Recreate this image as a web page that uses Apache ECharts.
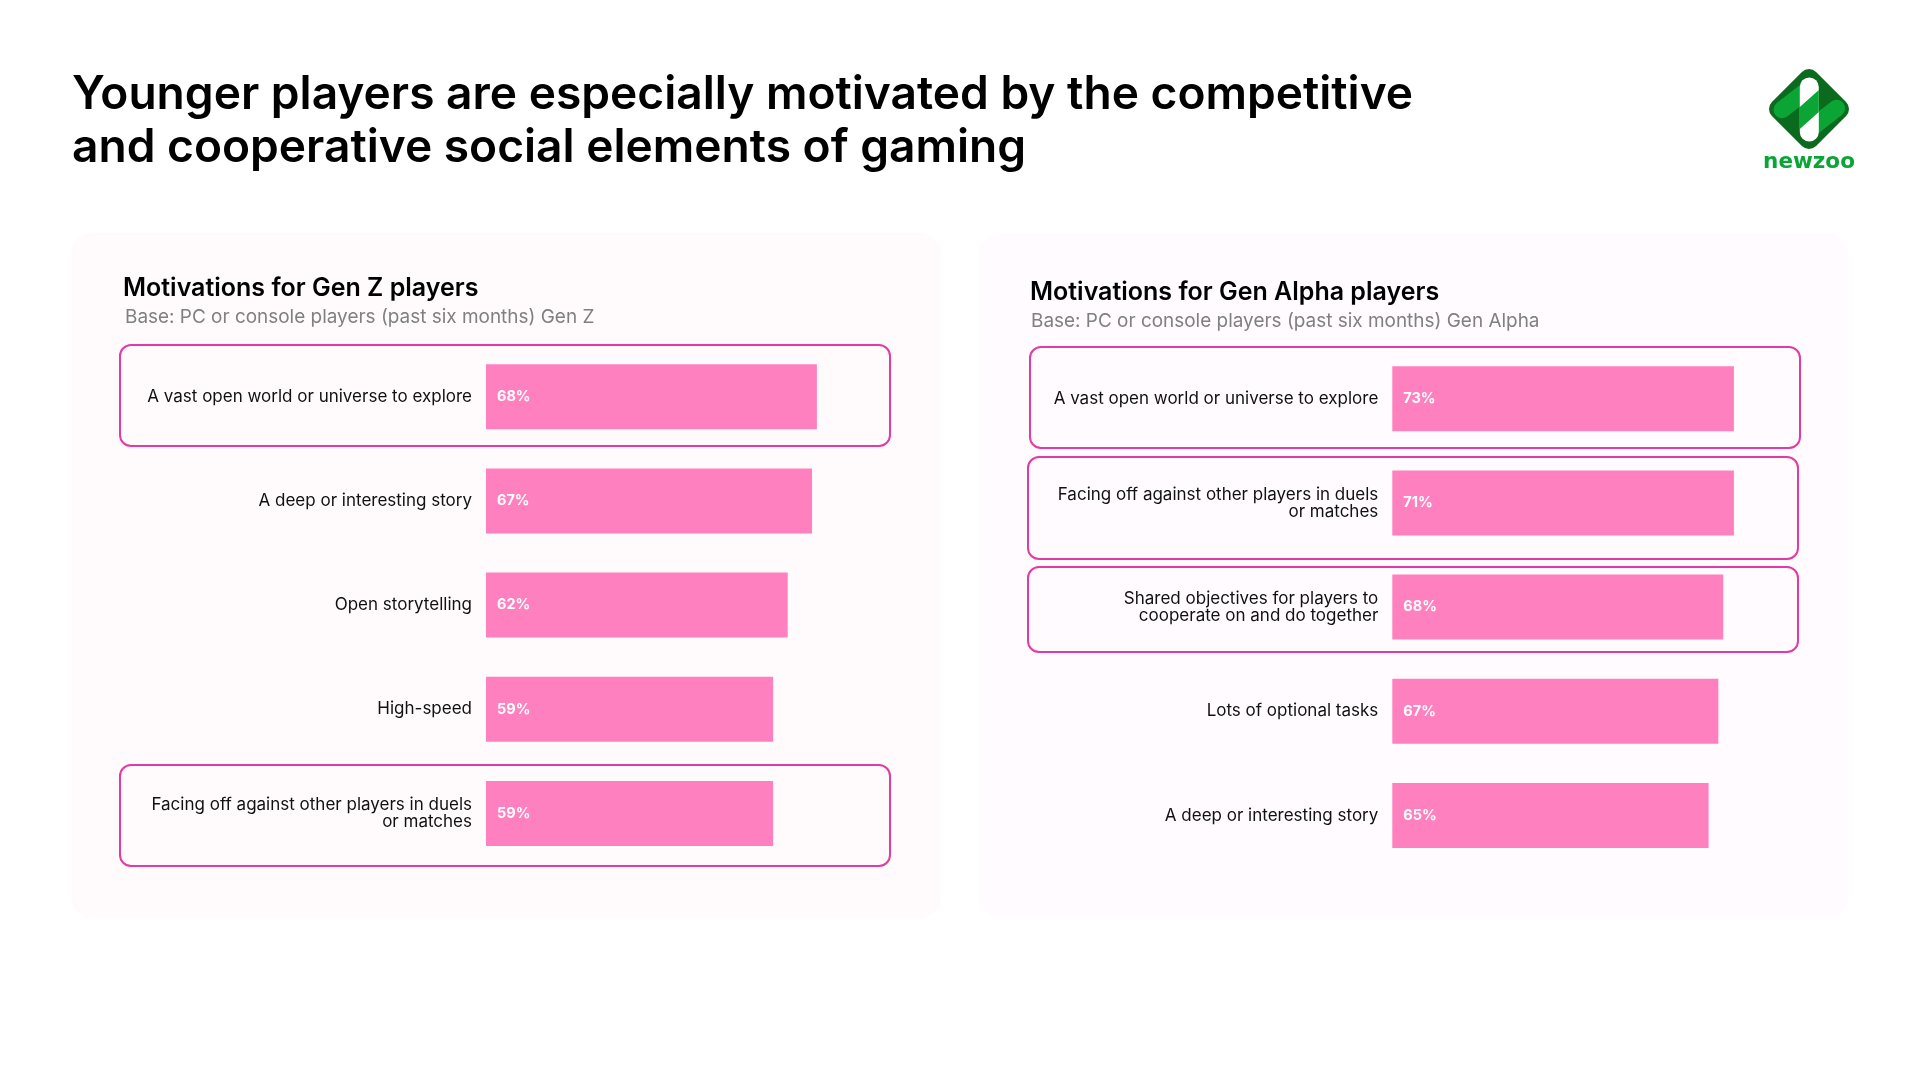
<!DOCTYPE html>
<html>
<head>
    <meta charset="utf-8">
    <title>Motivations for Gen Z and Gen Alpha players</title>
    <script src="https://cdn.jsdelivr.net/npm/echarts@6/dist/echarts.min.js"></script>
    <style>
        html, body { margin: 0; padding: 0; background: #fff; }
    </style>
</head>
<body>
<div id="main" style="width: 1920px;height:1080px;"></div>
<script type="text/javascript">
    var titleLines = [
        'Younger players are especially motivated by the competitive',
        'and cooperative social elements of gaming'
    ];

    var genZCategories = [
        'A vast open world or universe to explore',
        'A deep or interesting story',
        'Open storytelling',
        'High-speed',
        'Facing off against other players in duels\nor matches'
    ];
    var genZValues = [68, 67, 62, 59, 59];

    var genAlphaCategories = [
        'A vast open world or universe to explore',
        'Facing off against other players in duels\nor matches',
        'Shared objectives for players to\ncooperate on and do together',
        'Lots of optional tasks',
        'A deep or interesting story'
    ];
    // printed labels; in the picture the 73% and 71% bars are the same length
    var genAlphaLabels = [73, 71, 68, 67, 65];
    var genAlphaBars = [70.2, 70.2, 68, 67, 65];

    var PINK = '#ff80bf';
    var BOX = '#e23ba6';
    var FONT = 'Inter';

    function panel(x, y, w, h, fill) {
        return {
            type: 'rect', silent: true, z: 0,
            shape: {x: x, y: y, width: w, height: h, r: 22},
            style: {fill: fill}
        };
    }

    function box(x1, y1, x2, y2) {
        return {
            type: 'rect', silent: true, z: 1,
            shape: {x: x1, y: y1, width: x2 - x1, height: y2 - y1, r: 11},
            style: {fill: 'none', stroke: BOX, lineWidth: 2}
        };
    }

    function text(str, x, y, size, weight, color) {
        return {
            type: 'text', silent: true, z: 5,
            x: x, y: y,
            style: {
                text: str, fill: color, fontFamily: FONT,
                fontSize: size, fontWeight: weight,
                textAlign: 'left', textVerticalAlign: 'middle'
            }
        };
    }

    function logo() {
        var dark = '#0a6b1f', mid = '#0aa535';
        return [
            {
                type: 'polygon', silent: true, z: 2,
                shape: {points: [[1809, 79], [1839, 109], [1809, 139], [1779, 109]]},
                style: {fill: dark, stroke: dark, lineWidth: 20, lineJoin: 'round'}
            },
            {
                type: 'line', silent: true, z: 3,
                shape: {x1: 1782, y1: 109.7, x2: 1806, y2: 91},
                style: {stroke: mid, lineWidth: 17, lineCap: 'round'}
            },
            {
                type: 'line', silent: true, z: 3,
                shape: {x1: 1836.6, y1: 108.3, x2: 1812.6, y2: 127},
                style: {stroke: mid, lineWidth: 17, lineCap: 'round'}
            },
            {
                type: 'line', silent: true, z: 4,
                shape: {x1: 1809.3, y1: 87, x2: 1809.3, y2: 132},
                style: {stroke: '#ffffff', lineWidth: 19, lineCap: 'round'}
            },
            {
                type: 'polygon', silent: true, z: 4,
                shape: {points: [[1818.8, 90], [1818.8, 112], [1799.8, 129], [1799.8, 107]]},
                style: {fill: mid}
            },
            {
                type: 'text', silent: true, z: 5,
                x: 1809, y: 162.5,
                style: {
                    text: 'newzoo', fill: mid, fontFamily: 'DejaVu Sans',
                    fontSize: 21.5, fontWeight: 'bold',
                    textAlign: 'center', textVerticalAlign: 'middle'
                }
            }
        ];
    }

    function barSeries(idx, values, labels) {
        return {
            type: 'bar',
            xAxisIndex: idx,
            yAxisIndex: idx,
            barWidth: 65,
            itemStyle: {color: PINK},
            label: {
                show: true,
                position: 'insideLeft',
                distance: 11,
                color: '#fff',
                fontFamily: FONT,
                fontSize: 14.5,
                fontWeight: 'bold',
                formatter: function (p) {
                    return labels[p.dataIndex] + '%';
                }
            },
            silent: true,
            data: values
        };
    }

    function catAxis(idx, cats) {
        return {
            type: 'category',
            gridIndex: idx,
            inverse: true,
            data: cats,
            axisLine: {show: false},
            axisTick: {show: false},
            axisLabel: {
                margin: 14,
                color: '#111',
                fontFamily: FONT,
                fontSize: 17,
                lineHeight: 17,
                align: 'right'
            }
        };
    }

    function valAxis(idx) {
        return {type: 'value', gridIndex: idx, min: 0, max: 80, show: false};
    }

    var myChart = echarts.init(document.getElementById('main'));

    var option = {
        animation: false,
        backgroundColor: '#ffffff',
        grid: [
            {left: 486, top: 344.6, width: 389.3, height: 521},
            {left: 1392.3, top: 346.6, width: 389.3, height: 521}
        ],
        xAxis: [valAxis(0), valAxis(1)],
        yAxis: [catAxis(0, genZCategories), catAxis(1, genAlphaCategories)],
        series: [
            barSeries(0, genZValues, genZValues),
            barSeries(1, genAlphaBars, genAlphaLabels)
        ],
        graphic: {
            elements: [
                panel(71, 233, 870, 685, '#fffbfd'),
                panel(979, 233, 869, 685, '#fffbff'),
                box(120, 345, 890, 446),
                box(120, 765, 890, 866),
                box(1030, 347, 1800, 448),
                box(1028, 457, 1798, 559),
                box(1028, 567, 1798, 652),
                text(titleLines[0], 72, 95, 46.1, 600, '#000'),
                text(titleLines[1], 72, 148, 46.1, 600, '#000'),
                text('Motivations for Gen Z players', 123, 288, 25, 600, '#000'),
                text('Base: PC or console players (past six months) Gen Z', 125, 317, 18.95, 400, '#808080'),
                text('Motivations for Gen Alpha players', 1030, 292, 25, 600, '#000'),
                text('Base: PC or console players (past six months) Gen Alpha', 1031, 321, 18.95, 400, '#808080')
            ].concat(logo())
        }
    };

    myChart.setOption(option);
</script>
</body>
</html>
